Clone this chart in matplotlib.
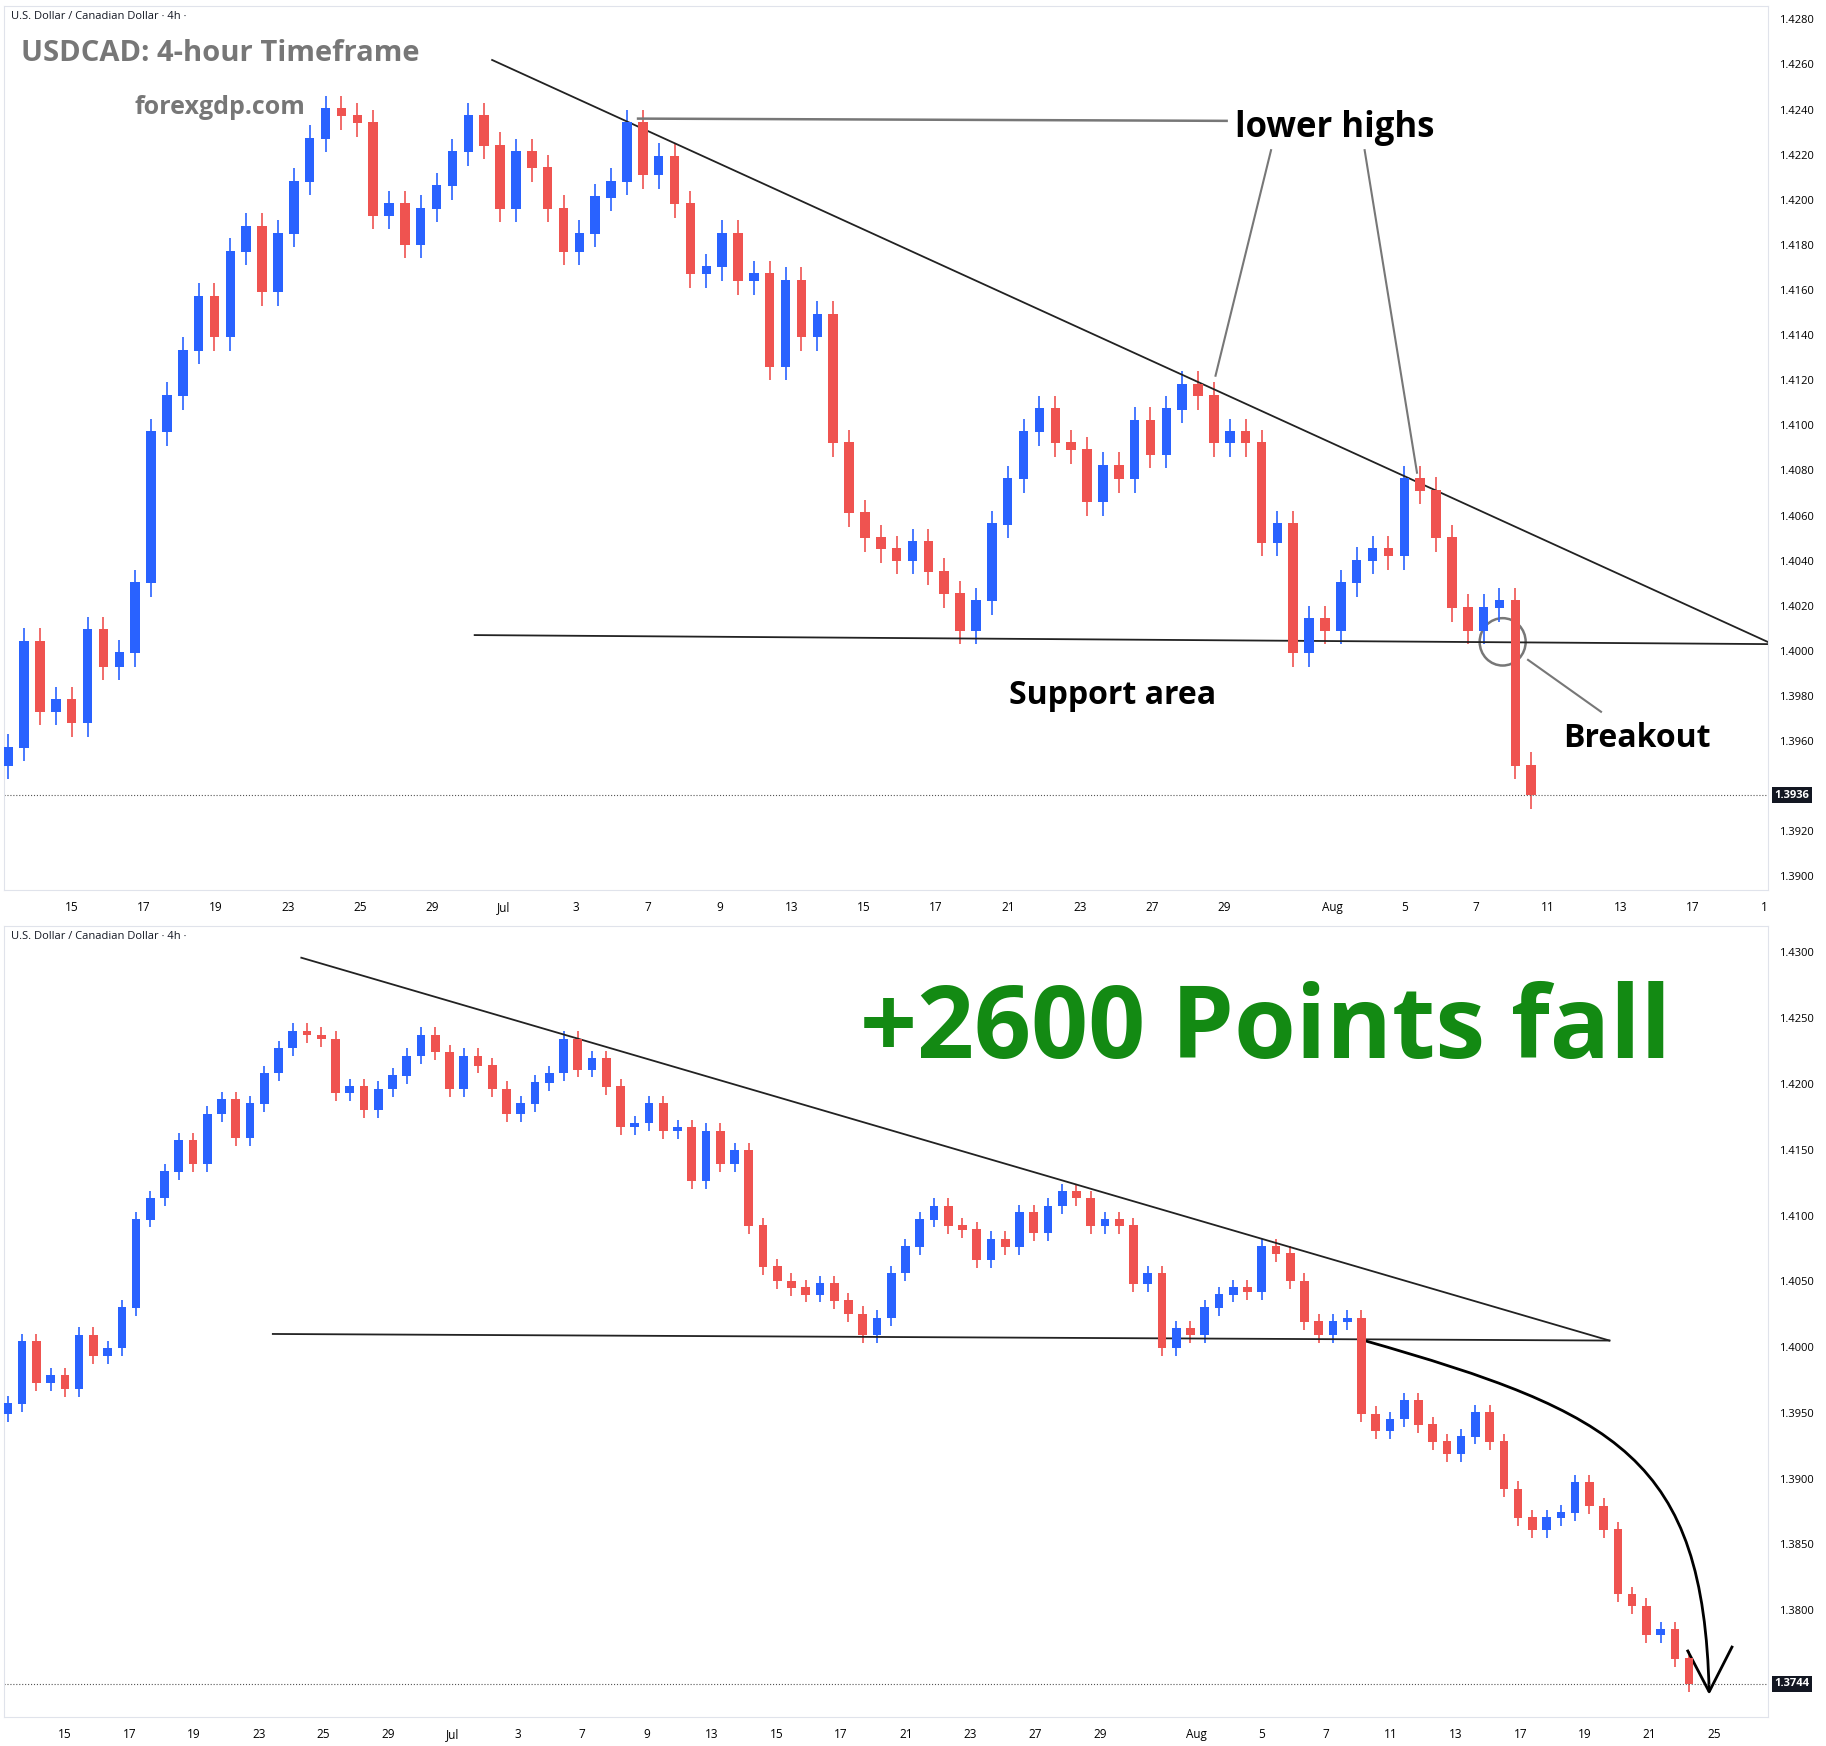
import numpy as np
import matplotlib.pyplot as plt
from matplotlib.patches import Ellipse
from matplotlib.path import Path
from matplotlib.patches import PathPatch

plt.rcParams['font.family'] = ['Open Sans', 'DejaVu Sans']

# -------------------------------
# Data (4h closes)
# -------------------------------

closes = [
    1.3957, 1.4004, 1.3973, 1.3978, 1.3968, 1.4009, 1.3993, 1.3999, 1.4030, 1.4097,
    1.4113, 1.4133, 1.4157, 1.4139, 1.4177, 1.4188, 1.4159, 1.4185, 1.4208, 1.4227,
    1.4240, 1.4237, 1.4234, 1.4193, 1.4198, 1.4180, 1.4196, 1.4206, 1.4221, 1.4237,
    1.4224, 1.4196, 1.4221, 1.4214, 1.4196, 1.4177, 1.4185, 1.4201, 1.4208, 1.4234,
    1.4211, 1.4219, 1.4198, 1.4167, 1.4170, 1.4185, 1.4164, 1.4167, 1.4126, 1.4164,
    1.4139, 1.4149, 1.4092, 1.4061, 1.4050, 1.4045, 1.4040, 1.4048, 1.4035, 1.4025,
    1.4009, 1.4022, 1.4056, 1.4076, 1.4097, 1.4107, 1.4092, 1.4089, 1.4066, 1.4082,
    1.4076, 1.4102, 1.4087, 1.4107, 1.4118, 1.4113, 1.4092, 1.4097, 1.4092, 1.4048,
    1.4056, 1.3999, 1.4014, 1.4009, 1.4030, 1.4040, 1.4045, 1.4042, 1.4076, 1.4071,
    1.4050, 1.4019, 1.4009, 1.4019, 1.4022, 1.3949, 1.3936,
]

later_closes = [
    1.3945, 1.3959, 1.3941, 1.3928, 1.3919, 1.3932, 1.3950, 1.3928,
    1.3892, 1.3870, 1.3861, 1.3870, 1.3874, 1.3897, 1.3879, 1.3861, 1.3812, 1.3803,
    1.3781, 1.3785, 1.3763, 1.3744,
]

top_day_labels = ["15", "17", "19", "23", "25", "29", "Jul", "3", "7", "9", "13", "15",
                  "17", "21", "23", "27", "29", "Aug", "5", "7", "11", "13", "17", "1"]
top_day_nums = [0, 2, 4, 6, 8, 10, 12, 14, 16, 18, 20, 22, 24, 26, 28, 30, 32, 35,
                37, 39, 41, 43, 45, 47]

bot_day_labels = ["15", "17", "19", "23", "25", "29", "Jul", "3", "7", "9", "13", "15",
                  "17", "21", "23", "27", "29", "Aug", "5", "7", "11", "13", "17", "19",
                  "21", "25"]
bot_day_nums = [0, 2, 4, 6, 8, 10, 12, 14, 16, 18, 20, 22, 24, 26, 28, 30, 32, 35,
                37, 39, 41, 43, 45, 47, 49, 51]

UP = "#2962ff"
DOWN = "#ef5350"
W, H = 1563, 1495  # layout reference units


def candles(ax, series):
    o = np.r_[series[0] - 0.0008, series[:-1]]
    c = np.array(series)
    x = np.arange(len(c))
    up = c >= o
    col = np.where(up, UP, DOWN)
    hi = np.maximum(o, c) + 0.0006
    lo = np.minimum(o, c) - 0.0006
    ax.vlines(x, lo, hi, colors=col, linewidth=1.2, zorder=2)
    ax.bar(x, np.abs(c - o) + 0.00005, bottom=np.minimum(o, c), width=0.6,
           color=col, zorder=3)


def setup(ax, ylo, yhi, xhi, yticks, fmt_labels, day_labels, day_nums):
    ax.set_ylim(ylo, yhi)
    ax.set_xlim(-0.3, xhi)
    ax.yaxis.tick_right()
    ax.set_yticks(yticks)
    ax.set_yticklabels(fmt_labels, fontsize=8)
    ax.set_xticks([4.0 + d * 2.27 for d in day_nums])
    ax.set_xticklabels(day_labels, fontsize=8.5)
    ax.tick_params(length=0, pad=8)
    for s in ax.spines.values():
        s.set_color("#e0e3eb")


fig = plt.figure(figsize=(18.26, 17.46), dpi=100)

# -------------------------------
# Top panel
# -------------------------------
ax1 = fig.add_axes([3 / W, 1 - 762 / H, 1510 / W, 757 / H])
yt = np.round(np.arange(1.3900, 1.42801, 0.002), 4)
yt = yt[yt != 1.394]  # hidden behind the last-price label
setup(ax1, 1.3894, 1.4286, 110.9, yt, [f"{v:.4f}" for v in yt], top_day_labels, top_day_nums)
candles(ax1, closes)
ax1.axhline(closes[-1], color="#555", linestyle=":", linewidth=0.8)
ax1.text(1.004, closes[-1], f"{closes[-1]:.4f}", transform=ax1.get_yaxis_transform(),
         fontsize=8, color="white", va="center", weight="bold",
         bbox=dict(boxstyle="square,pad=0.25", fc="#131722", ec="none"))

ax1.plot([30.5, 110.9], [1.4262, 1.4004], color="#222", linewidth=1.3)
ax1.plot([29.4, 110.9], [1.4007, 1.4003], color="#222", linewidth=1.3)
ax1.plot([39.7, 76.8], [1.4236, 1.4235], color="#777", linewidth=1.8)
ax1.plot([79.6, 76.1], [1.4222, 1.4122], color="#777", linewidth=1.5)
ax1.plot([85.5, 88.8], [1.4222, 1.4079], color="#777", linewidth=1.5)
ax1.plot([95.8, 100.4], [1.3996, 1.3973], color="#777", linewidth=1.5)
ax1.add_patch(Ellipse((94.2, 1.4004), 2.9, 0.0021, fill=False, ec="#777", lw=1.8))

ax1.text(0.004, 0.994, "U.S. Dollar / Canadian Dollar · 4h ·", transform=ax1.transAxes,
         fontsize=8, va="top", color="#131722")
ax1.text(15 / 1510, 1 - 41 / 757, "USDCAD: 4-hour Timeframe", transform=ax1.transAxes,
         fontsize=21, weight="bold", color="#777", va="center")
ax1.text(112 / 1510, 1 - 87 / 757, "forexgdp.com", transform=ax1.transAxes,
         fontsize=18, weight="bold", color="#777", va="center")
ax1.text(77.3, 1.4232, "lower highs", fontsize=25, weight="bold", va="center")
ax1.text(63.1, 1.3980, "Support area", fontsize=23, weight="bold", va="center")
ax1.text(98.0, 1.3961, "Breakout", fontsize=23, weight="bold", va="center")

# -------------------------------
# Bottom panel
# -------------------------------
ax2 = fig.add_axes([3 / W, 1 - 1470 / H, 1510 / W, 677 / H])
yt2 = np.round(np.arange(1.3800, 1.43001, 0.005), 4)
setup(ax2, 1.3719, 1.4320, 123.5, yt2, [f"{v:.4f}" for v in yt2], bot_day_labels, bot_day_nums)
candles(ax2, closes + later_closes)
last = later_closes[-1]
ax2.axhline(last, color="#555", linestyle=":", linewidth=0.8)
ax2.text(1.004, last, f"{last:.4f}", transform=ax2.get_yaxis_transform(),
         fontsize=8, color="white", va="center", weight="bold",
         bbox=dict(boxstyle="square,pad=0.25", fc="#131722", ec="none"))

ax2.plot([20.6, 112.4], [1.4296, 1.4005], color="#222", linewidth=1.3)
ax2.plot([18.6, 112.4], [1.4010, 1.4005], color="#222", linewidth=1.3)
curve = Path([(95.2, 1.4005), (113.0, 1.3950), (119.0, 1.3915), (119.4, 1.3738)],
             [Path.MOVETO, Path.CURVE4, Path.CURVE4, Path.CURVE4])
ax2.add_patch(PathPatch(curve, fill=False, ec="black", lw=2))
ax2.plot([117.9, 119.4, 121.0], [1.3769, 1.3738, 1.3772], color="black", lw=2)

ax2.text(0.004, 0.994, "U.S. Dollar / Canadian Dollar · 4h ·", transform=ax2.transAxes,
         fontsize=8, va="top", color="#131722")
ax2.text(59.8, 1.4240, "+2600 Points fall", fontsize=72, weight="bold",
         color="#138a13", va="center")

fig.savefig("out.png", dpi=100)
